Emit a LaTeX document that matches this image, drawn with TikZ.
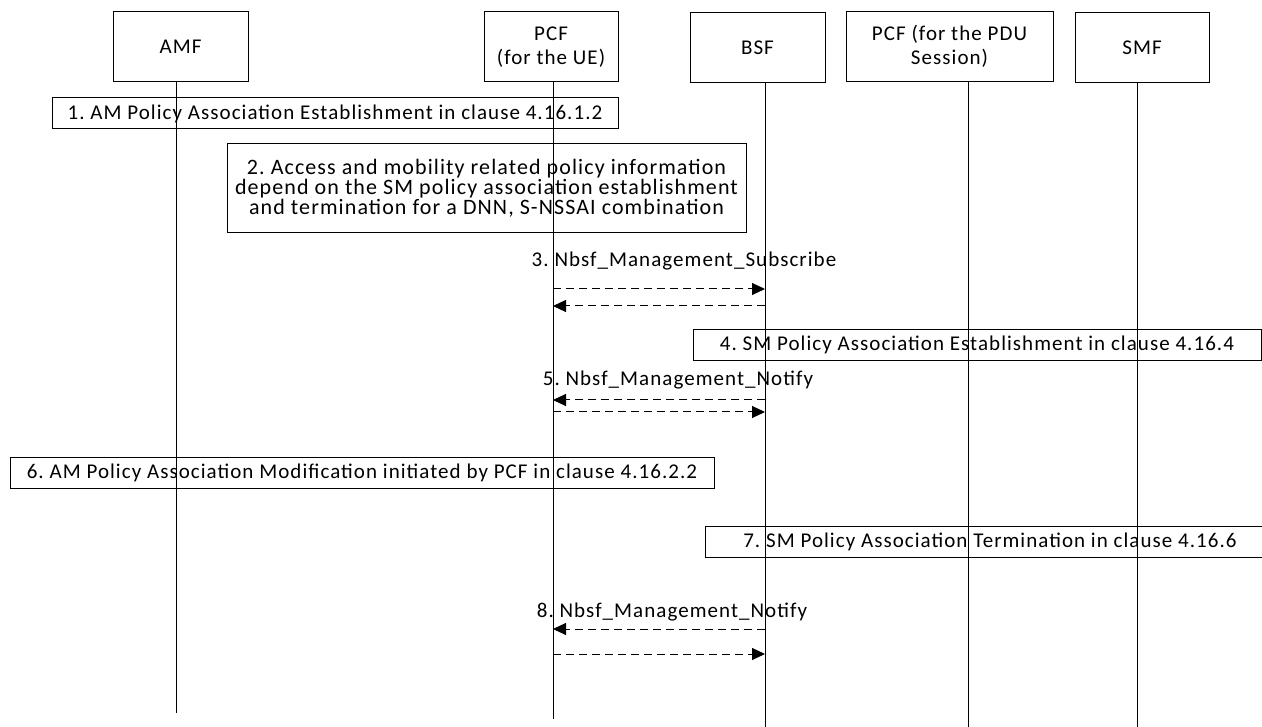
\documentclass[tikz,border=0pt]{standalone}
\usepackage{fontspec}
\setmainfont{Carlito}[LetterSpace=5]
\usetikzlibrary{arrows.meta,positioning}
\frenchspacing

\begin{document}
\begin{tikzpicture}[x=1pt,y=-1pt,
  font=\fontsize{21}{24}\selectfont,
  entity/.style={draw,line width=1pt,minimum height=70pt,align=center,inner sep=2pt},
  stepbox/.style={draw,line width=1pt,align=center,inner sep=2pt,minimum height=31pt},
  msgtext/.style={inner sep=1pt},
  lifeline/.style={line width=1pt},
  msg/.style={line width=1pt,dash pattern=on 8pt off 5pt,-{Triangle[length=13pt,width=12pt]}}]
\useasboundingbox (0,0) rectangle (1262,727);
\clip (0,0) rectangle (1262,727);

% entities
\node[entity,minimum width=135pt] (amf) at (180.5,47) {AMF};
\node[entity,minimum width=134pt] (pcfue) at (551,47) {PCF\\(for the UE)};
\node[entity,minimum width=135pt] (bsf) at (757.5,48) {BSF};
\node[entity,minimum width=207pt] (pcfpdu) at (949.5,46.5) {PCF (for the PDU\\Session)};
\node[entity,minimum width=134pt] (smf) at (1142,48) {SMF};

% lifeline ends
\coordinate (amfend) at (176,713);
\coordinate (pcfueend) at (553,719);
\coordinate (bsfend) at (765,727);
\coordinate (pcfpduend) at (968,727);
\coordinate (smfend) at (1137,727);

\draw[lifeline] (amf.south -| amfend) -- (amfend);
\draw[lifeline] (pcfue.south -| pcfueend) -- (pcfueend);
\draw[lifeline] (bsf.south -| bsfend) -- (bsfend);
\draw[lifeline] (pcfpdu.south -| pcfpduend) -- (pcfpduend);
\draw[lifeline] (smf.south -| smfend) -- (smfend);

% steps
\node[stepbox,minimum width=566pt] (s1) at (335,113.5) {1. AM Policy Association Establishment in clause 4.16.1.2};
\node[stepbox,minimum width=519pt,minimum height=89pt,font=\fontsize{22}{20}\selectfont] (s2) at (486.5,188.5)
  {2. Access and mobility related policy information\\depend on the SM policy association establishment\\and termination for a DNN, S-NSSAI combination};
\node[msgtext] (m3) at (684,261) {3. Nbsf\_Management\_Subscribe};
\draw[msg] (pcfueend |- 0,289) -- (bsfend |- 0,289);
\draw[msg] (bsfend |- 0,306) -- (pcfueend |- 0,306);
\node[stepbox,minimum width=568pt] (s4) at (977,345) {4. SM Policy Association Establishment in clause 4.16.4};
\node[msgtext] (m5) at (678,380) {5. Nbsf\_Management\_Notify};
\draw[msg] (bsfend |- 0,400) -- (pcfueend |- 0,400);
\draw[msg] (pcfueend |- 0,412) -- (bsfend |- 0,412);
\node[stepbox,minimum width=704pt] (s6) at (362,472.5) {6. AM Policy Association Modification initiated by PCF in clause 4.16.2.2};
\node[stepbox,minimum width=570pt] (s7) at (990,542) {7. SM Policy Association Termination in clause 4.16.6};
\node[msgtext] (m8) at (672,612) {8. Nbsf\_Management\_Notify};
\draw[msg] (bsfend |- 0,629) -- (pcfueend |- 0,629);
\draw[msg] (pcfueend |- 0,654) -- (bsfend |- 0,654);
\end{tikzpicture}
\end{document}
